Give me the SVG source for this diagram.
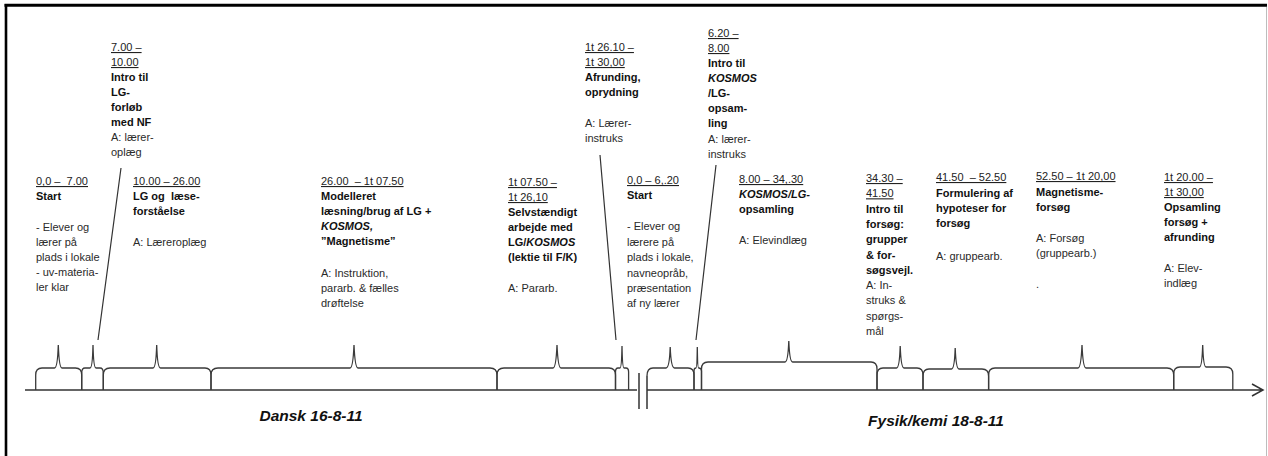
<svg xmlns="http://www.w3.org/2000/svg" width="1268" height="456" viewBox="0 0 1268 456">
<defs>
<style>
text{font-family:"Liberation Sans",Arial,sans-serif;font-size:11px;fill:#2a2a2a}
.b{font-weight:bold;fill:#111}
.i{font-style:italic}
.u{text-decoration:underline;fill:#222}
.lbl{font-size:15.5px;font-weight:bold;font-style:italic;fill:#111;text-anchor:middle}
.br{fill:none;stroke:#3a3a3a;stroke-width:1.3}
.ln{fill:none;stroke:#333;stroke-width:1.2}
.ax{fill:none;stroke:#333;stroke-width:1.5}
</style>
</defs>
<rect width="1268" height="456" fill="#fff"/>
<g id="frame">
<line x1="4.5" y1="5.3" x2="1267" y2="5.3" stroke="#000" stroke-width="3"/>
<line x1="6" y1="4" x2="6" y2="456" stroke="#000" stroke-width="2.6"/>
<line x1="1266.5" y1="7" x2="1266.5" y2="456" stroke="#bdbdbd" stroke-width="1"/>
</g>
<g id="connectors">
<path class="ax" d="M25,390 H637 M647,390 H1263 M1252,384 L1263,390 L1252,396"/>
<path class="ax" d="M639,373 V409 M647,376 V409"/>
<path class="ln" d="M121,168 L98,340 M600,155 L616,340 M716,165 L696,340"/>
<path class="br" d="M35.7,390 V375 Q35.7,368 42,368 H54.5 Q57.5,368 58.3,345 Q59.1,368 62,368 H75.5 Q81.7,368 81.7,375 V390"/>
<path class="br" d="M81.7,390 V373 Q81.7,368 85,368 H90 Q92.5,368 93,345 Q93.5,368 96,368 H100 Q103.3,368 103.3,373 V390"/>
<path class="br" d="M103.3,390 V375 Q103.3,368 110,368 H153 Q156,368 156.7,345 Q157.4,368 160.5,368 H205 Q211,368 211,375 V390"/>
<path class="br" d="M211,390 V375 Q211,368 218,368 H350 Q353,368 354,345 Q355,368 358,368 H490 Q497,368 497,375 V390"/>
<path class="br" d="M497,390 V375 Q497,368 504,368 H553 Q556,368 557,345 Q558,368 561,368 H609 Q615.5,368 615.5,375 V390"/>
<path class="br" d="M615.5,390 V372 Q615.5,368 618,368 H620 Q621.6,368 622,346 Q622.4,368 624,368 H626 Q628.6,368 628.6,372 V390"/>
<path class="br" d="M647,376 Q647,368 653,368 H666 Q669.5,368 670.2,347 Q671,368 674.5,368 H688 Q694,368 694,375 V390"/>
<path class="br" d="M694,390 V371 Q694,368 696,368 Q697,368 697.3,347 Q697.6,368 698.6,368 Q701.5,368 701.5,371 V390"/>
<path class="br" d="M701.5,390 V369 Q701.5,362 708,362 H785 Q788,362 788.8,341 Q789.6,362 792.6,362 H871 Q877,362 877,369 V390"/>
<path class="br" d="M877,390 V375 Q877,368 883,368 H896.5 Q899.5,368 900.2,346 Q901,368 904,368 H917 Q923,368 923,375 V390"/>
<path class="br" d="M923,390 V376 Q923,369 929,369 H951.5 Q954.5,369 955.2,348 Q956,369 959,369 H982 Q988.6,369 988.6,376 V390"/>
<path class="br" d="M988.6,390 V375 Q988.6,368 995,368 H1078 Q1081,368 1082,345 Q1083,368 1086,368 H1167 Q1173.7,368 1173.7,375 V390"/>
<path class="br" d="M1173.7,390 V374 Q1173.7,367 1180,367 H1199.5 Q1202,367 1202.7,345 Q1203.4,367 1206,367 H1226 Q1232.8,367 1232.8,374 V390"/>
</g>
<g id="n-start-dansk">
<text x="36" y="185" class="u" xml:space="preserve">0,0 –  7.00</text>
<text x="36" y="200" class="b">Start</text>
<text x="36" y="231">- Elever og</text>
<text x="36" y="246">lærer på</text>
<text x="36" y="261">plads i lokale</text>
<text x="36" y="276">- uv-materia-</text>
<text x="36" y="291">ler klar</text>
</g>
<g id="n-intro-lg">
<text x="111" y="51" class="u">7.00 –</text>
<text x="111" y="66" class="u">10.00</text>
<text x="111" y="81" class="b">Intro til</text>
<text x="111" y="96" class="b">LG-</text>
<text x="111" y="111" class="b">forløb</text>
<text x="111" y="126" class="b">med NF</text>
<text x="111" y="141">A: lærer-</text>
<text x="111" y="156">oplæg</text>
</g>
<g id="n-laese">
<text x="133" y="185" class="u">10.00 – 26.00</text>
<text x="133" y="200" class="b" xml:space="preserve">LG og  læse-</text>
<text x="133" y="215" class="b">forståelse</text>
<text x="133" y="246">A: Læreroplæg</text>
</g>
<g id="n-modelleret">
<text x="321" y="185" class="u" xml:space="preserve">26.00  – 1t 07.50</text>
<text x="321" y="200" class="b">Modelleret</text>
<text x="321" y="215" class="b">læsning/brug af LG +</text>
<text x="321" y="230" class="b i">KOSMOS,</text>
<text x="321" y="245" class="b">”Magnetisme”</text>
<text x="321" y="277">A: Instruktion,</text>
<text x="321" y="292">pararb. &amp; fælles</text>
<text x="321" y="307">drøftelse</text>
</g>
<g id="n-selvstaendigt">
<text x="508" y="186" class="u">1t 07.50 –</text>
<text x="508" y="201" class="u">1t 26,10</text>
<text x="508" y="216" class="b">Selvstændigt</text>
<text x="508" y="231" class="b">arbejde med</text>
<text x="508" y="246" class="b">LG/<tspan class="i">KOSMOS</tspan></text>
<text x="508" y="261" class="b">(lektie til F/K)</text>
<text x="508" y="292">A: Pararb.</text>
</g>
<g id="n-afrunding">
<text x="585" y="51" class="u">1t 26.10 –</text>
<text x="585" y="66" class="u">1t 30,00</text>
<text x="585" y="81" class="b">Afrunding,</text>
<text x="585" y="96" class="b">oprydning</text>
<text x="585" y="127">A: Lærer-</text>
<text x="585" y="142">instruks</text>
</g>
<g id="n-intro-kosmos">
<text x="708" y="37" class="u">6.20 –</text>
<text x="708" y="52" class="u">8.00</text>
<text x="708" y="67" class="b">Intro til</text>
<text x="708" y="82" class="b i">KOSMOS</text>
<text x="708" y="97" class="b">/LG-</text>
<text x="708" y="112" class="b">opsam-</text>
<text x="708" y="127" class="b">ling</text>
<text x="708" y="143">A: lærer-</text>
<text x="708" y="158">instruks</text>
</g>
<g id="n-start-fysik">
<text x="627" y="184" class="u">0,0 – 6,.20</text>
<text x="627" y="199" class="b">Start</text>
<text x="627" y="230">- Elever og</text>
<text x="627" y="245.5">lærere på</text>
<text x="627" y="261">plads i lokale,</text>
<text x="627" y="276.5">navneopråb,</text>
<text x="627" y="291.5">præsentation</text>
<text x="627" y="306.5">af ny lærer</text>
</g>
<g id="n-opsamling">
<text x="739" y="183" class="u">8.00 – 34,.30</text>
<text x="739" y="198" class="b i">KOSMOS/LG-</text>
<text x="739" y="213" class="b">opsamling</text>
<text x="739" y="244">A: Elevindlæg</text>
</g>
<g id="n-intro-forsoeg">
<text x="866" y="182" class="u">34.30 –</text>
<text x="866" y="197.3" class="u">41.50</text>
<text x="866" y="212.6" class="b">Intro til</text>
<text x="866" y="227.9" class="b">forsøg:</text>
<text x="866" y="243.2" class="b">grupper</text>
<text x="866" y="258.5" class="b">&amp; for-</text>
<text x="866" y="273.8" class="b">søgsvejl.</text>
<text x="866" y="289.1">A: In-</text>
<text x="866" y="304.4">struks &amp;</text>
<text x="866" y="319.7">spørgs-</text>
<text x="866" y="335">mål</text>
</g>
<g id="n-hypoteser">
<text x="936" y="181" class="u" xml:space="preserve">41.50  – 52.50</text>
<text x="936" y="197" class="b">Formulering af</text>
<text x="936" y="212" class="b">hypoteser for</text>
<text x="936" y="227" class="b">forsøg</text>
<text x="936" y="260">A: gruppearb.</text>
</g>
<g id="n-magnetisme">
<text x="1036" y="180" class="u">52.50 – 1t 20,00</text>
<text x="1036" y="196" class="b">Magnetisme-</text>
<text x="1036" y="211" class="b">forsøg</text>
<text x="1036" y="242">A: Forsøg</text>
<text x="1036" y="257">(gruppearb.)</text>
<text x="1036" y="288">.</text>
</g>
<g id="n-opsamling-forsoeg">
<text x="1164" y="181" class="u">1t 20.00 –</text>
<text x="1164" y="196" class="u">1t 30,00</text>
<text x="1164" y="211" class="b">Opsamling</text>
<text x="1164" y="226" class="b">forsøg +</text>
<text x="1164" y="241" class="b">afrunding</text>
<text x="1164" y="272">A: Elev-</text>
<text x="1164" y="287">indlæg</text>
</g>
<g id="labels">
<text x="311" y="421" class="lbl">Dansk 16-8-11</text>
<text x="936" y="426" class="lbl">Fysik/kemi 18-8-11</text>
</g>
</svg>
